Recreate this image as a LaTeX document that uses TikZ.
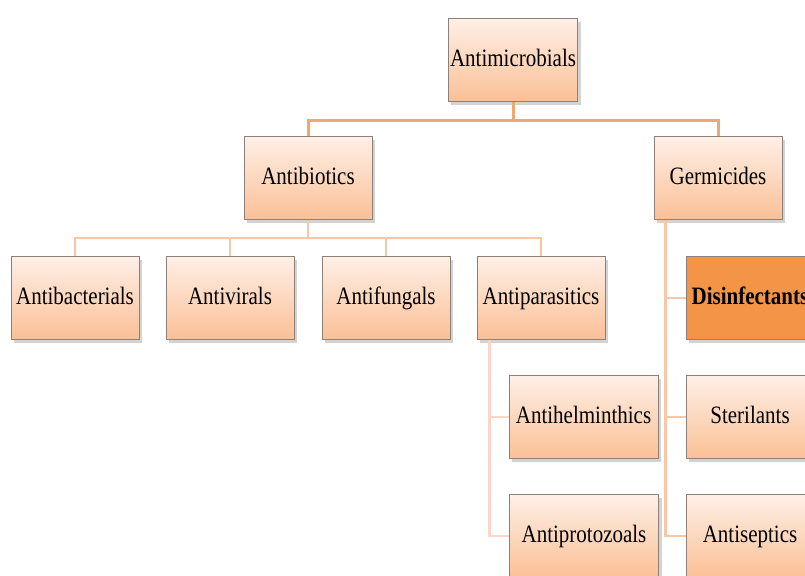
\documentclass[tikz,border=0pt]{standalone}
\usepackage{fontspec}
\setmainfont{Liberation Serif}[FakeStretch=0.84]
\usetikzlibrary{shadows}
\definecolor{boxtop}{HTML}{FEEFE6}
\definecolor{boxbottom}{HTML}{FBC096}
\definecolor{boxline}{HTML}{8C8078}
\definecolor{trunk}{HTML}{F4A672}
\definecolor{twig}{HTML}{F9C6A6}
\definecolor{leaf}{HTML}{FBD6C8}
\definecolor{hilite}{HTML}{F39447}

\begin{document}
\begin{tikzpicture}[x=0.5pt,y=-0.5pt,
    category/.style ={rectangle, draw=boxline, line width=0.5pt,
      top color=boxtop, bottom color=boxbottom,
      minimum width=64pt, minimum height=41.5pt, inner sep=1pt,
      text height=0.78em, text depth=0.14em,
      font=\fontsize{12.5}{14}\selectfont,
      drop shadow={shadow xshift=1.5pt, shadow yshift=-1.5pt, opacity=0.35}},
    chosen/.style ={category, fill=hilite, top color=hilite, bottom color=hilite,
      font=\fontsize{12.5}{14}\selectfont\bfseries},
    wide/.style ={minimum width=74.5pt},
    trunkline/.style ={draw=trunk, line width=1.5pt},
    twigline/.style ={draw=twig, line width=1.4pt},
    leafline/.style ={draw=leaf, line width=1.4pt}]
   \useasboundingbox (0,0) rectangle (805,575);
   \clip (0,0) rectangle (805,575);

   \coordinate (P) at (513,120);
   \coordinate (Q) at (308,238);

   \node[category] (A)  at (513,60)  {Antimicrobials};
   \node[category] (B)  at (308,178)  {Antibiotics};
   \node[category] (C)  at (718,178)  {Germicides};
   \node[category] (D)  at (75,298)  {Antibacterials};
   \node[category] (E)  at (230,298)  {Antivirals};
   \node[category] (F)  at (386,298)  {Antifungals};
   \node[category] (G)  at (541,298)  {Antiparasitics};
   \node[category,wide] (H)  at (583.5,417)  {Antihelminthics};
   \node[category,wide] (I)  at (584,536)  {Antiprotozoals};
   \node[chosen] (J)  at (750,298)  {Disinfectants};
   \node[category] (K)  at (750,417)  {Sterilants};
   \node[category] (L)  at (750,536)  {Antiseptics};

   \draw[trunkline] (A.south) -- (P);
   \draw[trunkline] (P) -| (B.north);
   \draw[trunkline] (P) -| (C.north);
   \draw[twigline] (B.south) -- (Q);
   \draw[twigline] (Q) -| (D.north);
   \draw[twigline] (Q) -| (E.north);
   \draw[twigline] (Q) -| (F.north);
   \draw[twigline] (Q) -| (G.north);
   \draw[leafline] ([xshift=6.5pt]G.south west) |- (H.west);
   \draw[leafline] ([xshift=6.5pt]G.south west) |- (I.west);
   \draw[twigline] ([xshift=6pt]C.south west) |- (J.west);
   \draw[twigline] ([xshift=6pt]C.south west) |- (K.west);
   \draw[twigline] ([xshift=6pt]C.south west) |- (L.west);
 \end{tikzpicture}
\end{document}
